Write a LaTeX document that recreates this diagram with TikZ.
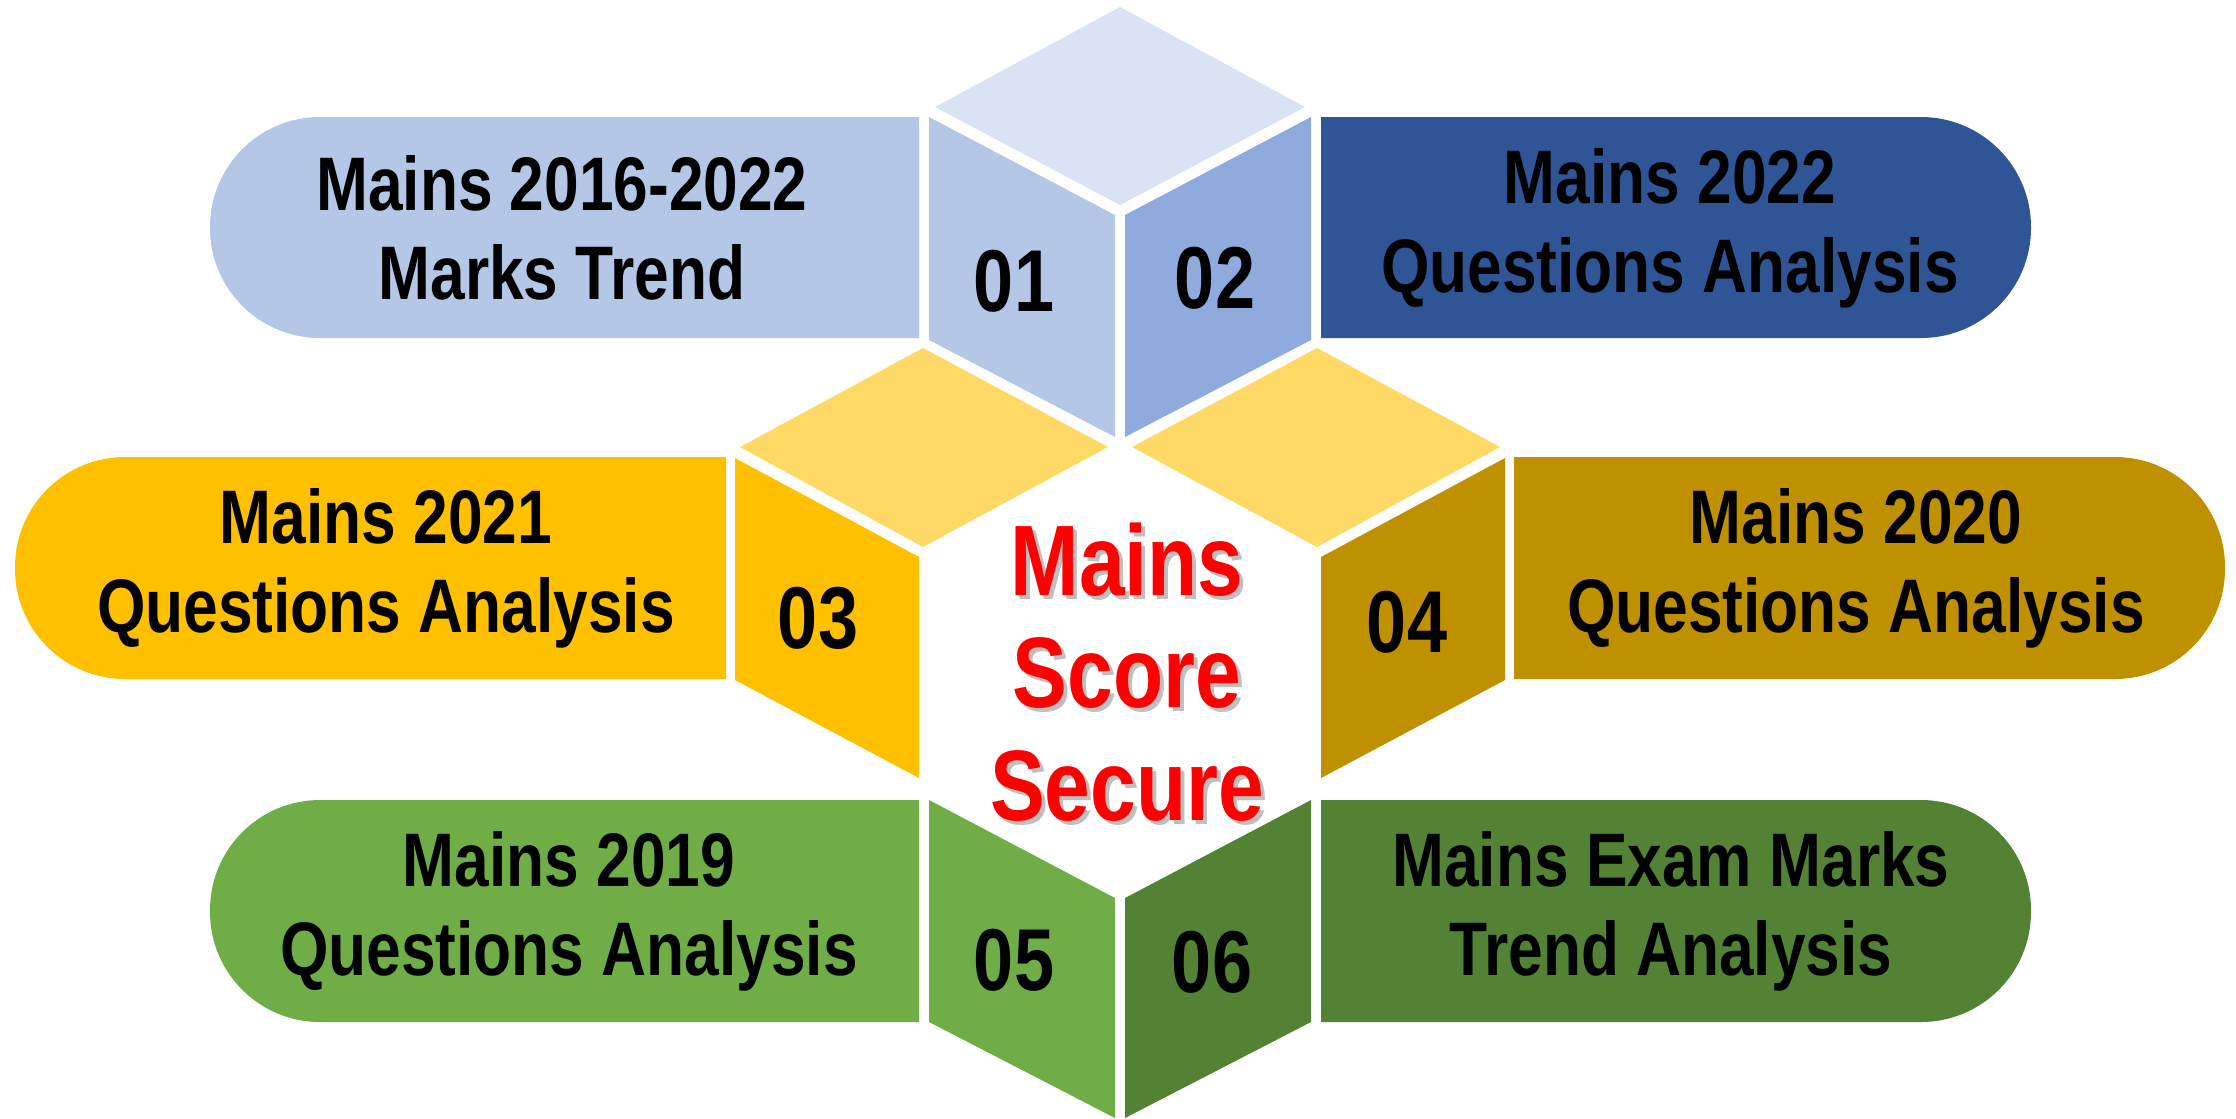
\documentclass[tikz,border=0pt]{standalone}
\usepackage{fontspec}
\setmainfont{Liberation Sans}[FakeStretch=0.82]
\usepackage{tikz}

\definecolor{capblue}{HTML}{DAE3F3}
\definecolor{paleblue}{HTML}{B4C7E7}
\definecolor{midblue}{HTML}{8FAADC}
\definecolor{darkblue}{HTML}{2F5597}
\definecolor{capgold}{HTML}{FFD966}
\definecolor{gold}{HTML}{FFC000}
\definecolor{darkgold}{HTML}{BF9000}
\definecolor{leafgreen}{HTML}{70AD47}
\definecolor{darkgreen}{HTML}{548235}

% pill with round end on the left / on the right
\newcommand{\leftpill}[5]{\fill[#5] (#2,#3) [rounded corners=11mm] -- (#1,#3) -- (#1,#4) [sharp corners] -- (#2,#4) -- cycle;}
\newcommand{\rightpill}[5]{\fill[#5] (#1,#3) [rounded corners=11mm] -- (#2,#3) -- (#2,#4) [sharp corners] -- (#1,#4) -- cycle;}

\begin{document}
\begin{tikzpicture}[x=0.1mm,y=-0.1mm,
	pilltext/.style={font=\fontsize{21.6}{25.3}\selectfont\bfseries, align=center, text=black},
	numtext/.style={font=\fontsize{25}{30}\selectfont\bfseries, text=black},
	scoretext/.style={font=\fontsize{28.5}{32}\selectfont\bfseries, align=center}]
	
	\useasboundingbox (0,0) rectangle (2236,1118);
	
	% Draw the six pills
	\leftpill{210}{919}{117}{338}{paleblue}
	\rightpill{1321}{2031}{117}{338}{darkblue}
	\leftpill{15}{726}{457}{679}{gold}
	\rightpill{1514}{2225}{457}{679}{darkgold}
	\leftpill{210}{919}{800}{1022}{leafgreen}
	\rightpill{1321}{2031}{800}{1022}{darkgreen}
	
	% Draw top cube
	\fill[capblue] (1120,7) -- (1305,107) -- (1120,205) -- (935,107) -- cycle;
	\fill[paleblue] (929,117) -- (1115,215) -- (1115,437) -- (929,340) -- cycle;
	\fill[midblue] (1125,215) -- (1311,117) -- (1311,340) -- (1125,437) -- cycle;
	
	% Draw middle row
	\fill[capgold] (923,348) -- (1108,447) -- (923,547) -- (740,447) -- cycle;
	\fill[capgold] (1317,348) -- (1500,447) -- (1317,547) -- (1132,447) -- cycle;
	\fill[gold] (735,458) -- (919,557) -- (919,778) -- (735,680) -- cycle;
	\fill[darkgold] (1321,557) -- (1505,458) -- (1505,680) -- (1321,778) -- cycle;
	
	% Draw bottom faces
	\fill[leafgreen] (929,800) -- (1115,898) -- (1115,1118) -- (929,1022) -- cycle;
	\fill[darkgreen] (1125,898) -- (1311,800) -- (1311,1022) -- (1125,1118) -- cycle;
	
	% Label the faces
	\node[numtext] (n01) at (1014,281) {01};
	\node[numtext] (n02) at (1215,278) {02};
	\node[numtext] (n03) at (818,618) {03};
	\node[numtext] (n04) at (1407,622) {04};
	\node[numtext] (n05) at (1014,960) {05};
	\node[numtext] (n06) at (1212,962) {06};
	
	% Label the pills
	\node[pilltext] (p01) at (562,228) {Mains 2016-2022\\Marks Trend};
	\node[pilltext] (p02) at (1670,228) {Mains 2022\\Questions Analysis};
	\node[pilltext] (p03) at (386,568) {Mains 2021\\Questions Analysis};
	\node[pilltext] (p04) at (1856,568) {Mains 2020\\Questions Analysis};
	\node[pilltext] (p05) at (569,911) {Mains 2019\\Questions Analysis};
	\node[pilltext] (p06) at (1671,911) {Mains Exam Marks\\Trend Analysis};
	
	% Centre title with soft shadow
	\node[scoretext, text=black, opacity=0.25] (shadow) at (1131,676) {Mains\\Score\\Secure};
	\node[scoretext, text=red] (score) at (1127,672) {Mains\\Score\\Secure};
\end{tikzpicture}
\end{document}
